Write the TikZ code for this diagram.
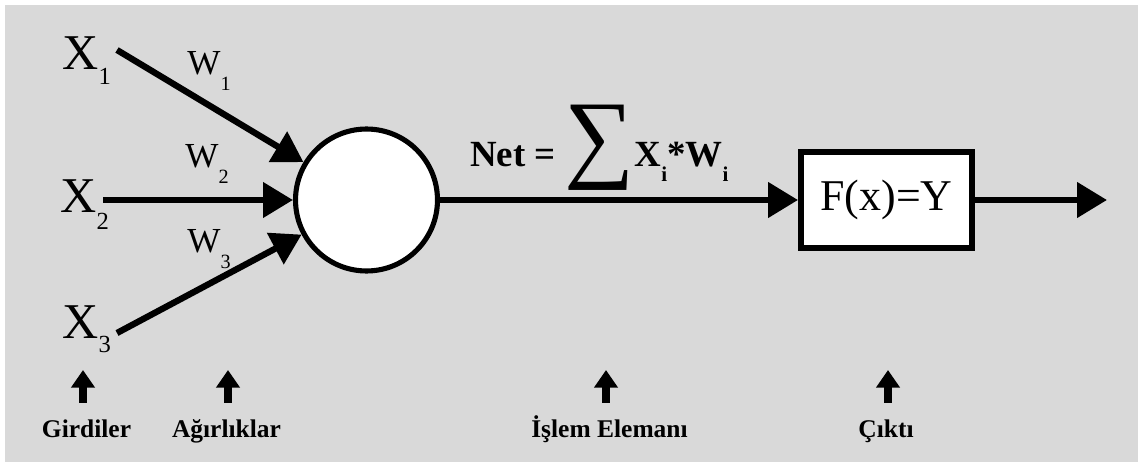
\documentclass[tikz,border=0pt]{standalone}
\usepackage{fontspec}
\setmainfont{Liberation Serif}
\usetikzlibrary{arrows.meta, positioning}
\definecolor{panelgray}{RGB}{217,217,217}
\newcommand{\lowsub}[3]{\raisebox{-#1}{\fontsize{#2}{#2}\selectfont #3}}

\begin{document}
\begin{tikzpicture}[
    x=0.02cm, y=-0.02cm,
    unit/.style={circle, draw, line width=2.9pt, fill=white, minimum size=2.84cm, inner sep=0},
    func/.style={rectangle, draw, line width=3.4pt, fill=white, minimum width=3.42cm, minimum height=1.92cm, font=\fontsize{25}{27}\selectfont},
    arrow/.style={-{Triangle[length=17pt, width=19.5pt]}, line width=3.6pt},
    uparrow/.style={-{Triangle[length=10pt, width=13pt]}, line width=5pt},
    inlabel/.style={anchor=base west, inner sep=0, font=\fontsize{28.5}{30}\selectfont},
    wlabel/.style={anchor=base west, inner sep=0, font=\fontsize{20}{22}\selectfont},
    caption/.style={anchor=base, inner sep=0, outer sep=8.5pt, text height=11pt, text depth=0pt, font=\bfseries\fontsize{14.5}{16}\selectfont}
]
    \useasboundingbox (0,0) rectangle (1138,462);
    \fill[white] (0,0) rectangle (1138,462);
    \fill[panelgray] (5,5) rectangle (1138,462);

    \node[unit] (neuron) at (366.5,200) {};
    \node[func] (fx) at (886.5,200) {F(x)=Y};

    \node[inlabel] (x1) at (62,70) {X\lowsub{8.5pt}{14}{1}};
    \node[inlabel] (x2) at (60,213) {X\lowsub{9.5pt}{14}{2}};
    \node[inlabel] (x3) at (62,338) {X\lowsub{8.5pt}{14}{3}};
    \node[wlabel] (w1) at (187,75) {W\lowsub{9pt}{11.5}{1}};
    \node[wlabel] (w2) at (185,168) {W\lowsub{9pt}{11.5}{2}};
    \node[wlabel] (w3) at (187,253) {W\lowsub{9pt}{11.5}{3}};
    \node[anchor=base west, inner sep=0] (net) at (470,167) {\bfseries\fontsize{21}{23}\selectfont Net =\kern 5pt\raisebox{-1.5pt}{\mdseries\fontsize{56}{56}\selectfont ∑}X\lowsub{8.5pt}{12}{i}*W\lowsub{8.5pt}{12}{i}};

    \coordinate (in1) at (117,50);
    \coordinate (in2) at (103,200);
    \coordinate (in3) at (117,333);
    \coordinate (out) at (1107,200);

    \draw[arrow] (in1) -- (neuron);
    \draw[arrow] (in2) -- (neuron);
    \draw[arrow] (in3) -- (neuron);
    \draw[arrow] (neuron) -- (fx);
    \draw[arrow] (fx) -- (out);

    \node[caption] (girdiler) at (86.5,437) {Girdiler};
    \node[caption] (agirlik) at (226.5,437) {Ağırlıklar};
    \node[caption] (islem) at (609.5,437) {İşlem Elemanı};
    \node[caption] (cikti) at (886,437) {Çıktı};

    \coordinate (tg) at (83,370);
    \coordinate (ta) at (228,370);
    \coordinate (ti) at (606,370);
    \coordinate (tc) at (888,370);

    \draw[uparrow] (girdiler.north -| tg) -- (tg);
    \draw[uparrow] (agirlik.north -| ta) -- (ta);
    \draw[uparrow] (islem.north -| ti) -- (ti);
    \draw[uparrow] (cikti.north -| tc) -- (tc);
\end{tikzpicture}
\end{document}
